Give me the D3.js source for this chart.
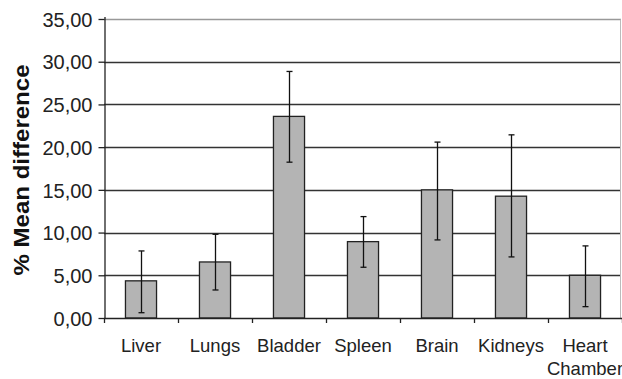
<!DOCTYPE html>
<html>
<head>
<meta charset="utf-8">
<script src="https://cdn.jsdelivr.net/npm/d3@7"></script>
<style>
  html, body { margin: 0; padding: 0; background: #fff; }
  svg { display: block; font-family: "Liberation Sans", Arial, sans-serif; }
</style>
</head>
<body>
<svg id="chart" width="622" height="379"></svg>
<script>
// Organ categories and mean differences (%) with error bar bounds
const organs = ["Liver", "Lungs", "Bladder", "Spleen", "Brain", "Kidneys", "Heart Chamber"];
const meanDiff = [4.35, 6.56, 23.6, 8.94, 15.0, 14.26, 5.0];
const errLow = [0.62, 3.28, 18.24, 5.94, 9.14, 7.15, 1.33];
const errHigh = [7.85, 9.8, 28.86, 11.87, 20.59, 21.44, 8.44];
const yTicks = [0, 5, 10, 15, 20, 25, 30, 35];

const margin = { left: 104, right: 0, top: 19, bottom: 61 };
const W = 622, H = 379;
const svg = d3.select("#chart");

const x = d3.scaleBand()
  .domain(organs)
  .range([margin.left, W - margin.right])
  .paddingInner(0.58)
  .paddingOuter(0.29);

const step = x.step();

const y = d3.scaleLinear()
  .domain([0, 35])
  .range([H - margin.bottom, margin.top]);

const fmt = v => d3.format(".2f")(v).replace(".", ",");

// Horizontal gridlines
svg.append("g")
  .selectAll("line")
  .data(yTicks.filter(v => v > 0))
  .join("line")
  .attr("x1", margin.left)
  .attr("x2", W - 1)
  .attr("y1", d => Math.round(y(d)) + 0.5)
  .attr("y2", d => Math.round(y(d)) + 0.5)
  .attr("stroke", d => d === 35 ? "#999" : "#333")
  .attr("stroke-width", 1.3);

// Right border of the plot area
svg.append("line")
  .attr("x1", W - 1.5).attr("x2", W - 1.5)
  .attr("y1", Math.round(y(35)) + 0.5).attr("y2", y(0))
  .attr("stroke", "#bbb");

// Bars
svg.append("g")
  .selectAll("rect")
  .data(organs)
  .join("rect")
  .attr("x", d => x(d))
  .attr("width", x.bandwidth())
  .attr("y", (d, i) => y(meanDiff[i]))
  .attr("height", (d, i) => y(0) - y(meanDiff[i]))
  .attr("fill", "#b4b4b4")
  .attr("stroke", "#222")
  .attr("stroke-width", 1.3);

// Error bars
const eb = svg.append("g").attr("stroke", "#111").attr("stroke-width", 1.3);
organs.forEach((o, i) => {
  const cx = Math.round(x(o) + x.bandwidth() / 2) + 0.5;
  eb.append("line").attr("x1", cx).attr("x2", cx)
    .attr("y1", y(errLow[i])).attr("y2", y(errHigh[i]));
  [errLow[i], errHigh[i]].forEach(v => {
    eb.append("line").attr("x1", cx - 3).attr("x2", cx + 3)
      .attr("y1", y(v)).attr("y2", y(v));
  });
});

// Y axis
const yAxis = svg.append("g")
  .attr("transform", `translate(${margin.left + 0.5},0)`)
  .call(d3.axisLeft(y).tickValues(yTicks).tickFormat(fmt).tickSize(6).tickSizeOuter(0));
yAxis.select(".domain").attr("stroke", "#222").attr("stroke-width", 1.3)
  .attr("d", `M0.5,${y(35) - 2}V${y(0)}`);
yAxis.selectAll(".tick line").attr("stroke", "#222").attr("stroke-width", 1.3);
yAxis.selectAll(".tick text")
  .attr("x", -12)
  .attr("dy", "0.36em")
  .attr("fill", "#222")
  .attr("font-size", null)
  .style("font-size", "20px")
  .style("font-family", "'Liberation Sans', Arial, sans-serif");

// X axis with ticks between categories
const xAxisG = svg.append("g");
xAxisG.append("line")
  .attr("x1", margin.left).attr("x2", W)
  .attr("y1", Math.round(y(0)) + 0.5).attr("y2", Math.round(y(0)) + 0.5)
  .attr("stroke", "#222").attr("stroke-width", 1.3);
xAxisG.selectAll("line.tk")
  .data(d3.range(organs.length + 1))
  .join("line")
  .attr("class", "tk")
  .attr("x1", i => Math.round(margin.left + i * step) + 0.5)
  .attr("x2", i => Math.round(margin.left + i * step) + 0.5)
  .attr("y1", y(0))
  .attr("y2", y(0) + 5)
  .attr("stroke", "#222").attr("stroke-width", 1.3);

// Category labels (split on space for the two-line label)
organs.forEach(o => {
  const cx = x(o) + x.bandwidth() / 2;
  const lines = o === "Heart Chamber" ? ["Heart", "Chamber"] : [o];
  const t = svg.append("text")
    .attr("x", cx)
    .attr("y", 352)
    .attr("text-anchor", "middle")
    .attr("fill", "#222")
    .style("font-size", "18.5px");
  lines.forEach((ln, k) => {
    t.append("tspan").attr("x", cx).attr("dy", k === 0 ? 0 : 23).text(ln);
  });
});

// Y axis title
svg.append("text")
  .attr("transform", `translate(29,170) rotate(-90)`)
  .attr("text-anchor", "middle")
  .attr("fill", "#111")
  .attr("textLength", 211)
  .attr("lengthAdjust", "spacingAndGlyphs")
  .style("font-size", "22px")
  .style("font-weight", "bold")
  .text("% Mean difference");
</script>
</body>
</html>
